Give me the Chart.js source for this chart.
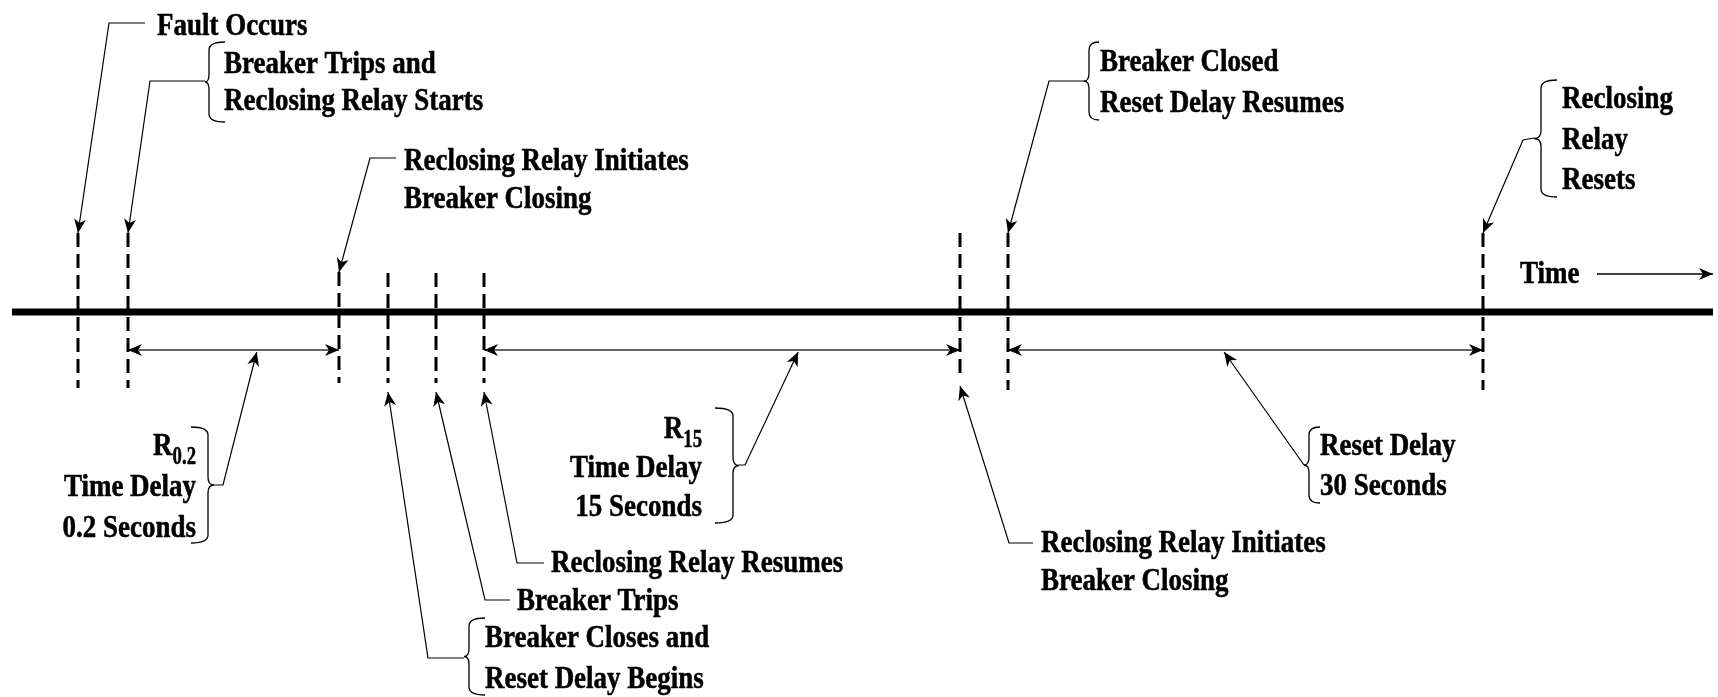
<!DOCTYPE html>
<html>
<head>
<meta charset="utf-8">
<title>Reclosing relay sequence</title>
<script src="https://cdn.jsdelivr.net/npm/chart.js@4.4.1/dist/chart.umd.min.js"></script>
<style>
  html, body { margin: 0; padding: 0; background: #fff; }
  #wrap { width: 1718px; height: 697px; position: relative; }
</style>
</head>
<body>
<div id="wrap"><canvas id="sequenceChart"></canvas></div>
<script>
// events on the time line (diagram position, not to scale)
var eventNames = [
    ['Fault Occurs'],
    ['Breaker Trips and', 'Reclosing Relay Starts'],
    ['Reclosing Relay Initiates', 'Breaker Closing'],
    ['Breaker Closes and', 'Reset Delay Begins'],
    ['Breaker Trips'],
    ['Reclosing Relay Resumes'],
    ['Reclosing Relay Initiates', 'Breaker Closing'],
    ['Breaker Closed', 'Reset Delay Resumes'],
    ['Reclosing', 'Relay', 'Resets']
];
var eventPos = [78, 128, 339, 388, 436, 484, 960, 1008, 1483];

// timed intervals, as indexes into eventPos
var intervalNames = ['Time Delay', 'Time Delay', 'Reset Delay'];
var intervalSymbol = ['R', 'R', null];
var intervalSeconds = [0.2, 15, 30];
var intervalFrom = [1, 5, 7];
var intervalTo = [2, 6, 8];

var axisStart = 12, axisEnd = 1713;
var axisLabel = 'Time';

// ---- layout (y = height above the time line) ----
var FONT = 'bold 29px "Liberation Serif", "Times New Roman", serif';
var SUB_FONT = 'bold 24px "Liberation Serif", "Times New Roman", serif';
var TEXT_SX = 0.93, TEXT_SY = 1.06, SUB_SX = 0.78;

var markerTop = [79, 79, 40, 39, 39, 39, 79, 79, 79];
var markerBottom = [-76, -76, -71, -71, -71, -71, -65, -78, -78];
var dimY = -38;

// brace: [tipX, stemX, hookX, top, bottom]
var eventCallouts = [
    { tx: 157, ty: 277, tip: 'top', bend: [[145, 289], [109, 289]] },
    { tx: 224, ty: 239, gap: 37, tip: 'top', bend: [[205, 231], [150, 231]], brace: [205, 209, 225, 270, 190] },
    { tx: 404, ty: 142, gap: 38, tip: 'top', bend: [[396, 154], [370, 154]] },
    { tx: 485, ty: -335, gap: 41, tip: 'bottom', bend: [[464, -346], [428, -346]], brace: [464, 469, 485, -306, -383] },
    { tx: 517, ty: -298, tip: 'bottom', bend: [[510, -288], [485, -288]] },
    { tx: 551, ty: -260, tip: 'bottom', bend: [[544, -251], [517, -251]] },
    { tx: 1041, ty: -240, gap: 38, tip: 'bottom', bend: [[1033, -231], [1009, -231]] },
    { tx: 1100, ty: 241, gap: 41, tip: 'top', bend: [[1084, 231], [1049, 231]], brace: [1084, 1089, 1099, 270, 192] },
    { tx: 1562, ty: 204, gap: 40.5, tip: 'top', bend: [[1534, 174], [1523, 172]], brace: [1534, 1541, 1557, 232, 115] }
];

var intervalCallouts = [
    { tx: 196, ty: -143, gap: 41, align: 'right', at: 0.61, bend: [[214, -173], [223, -173]], brace: [214, 208, 191, -115, -231] },
    { tx: 702, ty: -126, gap: 39, align: 'right', at: 0.66, bend: [[739, -153], [745, -153]], brace: [739, 733, 715, -96, -211] },
    { tx: 1320, ty: -143, gap: 40, align: 'left', at: 0.455, bend: [[1304, -153]], brace: [1304, 1309, 1320, -115, -191] }
];

var timeLabel = { tx: 1520, ty: 29, from: 1597, y: 38 };

function pt(x, y) { return { x: x, y: y }; }

var datasets = [];
datasets.push({ data: [pt(axisStart, 0), pt(axisEnd, 0)], borderColor: '#000', borderWidth: 7 });

eventPos.forEach(function (x, i) {
    datasets.push({ data: [pt(x, markerTop[i]), pt(x, markerBottom[i])], borderColor: '#000', borderWidth: 3, borderDash: [14, 7] });
});

intervalFrom.forEach(function (a, i) {
    datasets.push({
        data: [pt(eventPos[a], dimY), pt(eventPos[intervalTo[i]], dimY)],
        borderColor: '#333', borderWidth: 1.6, arrowStart: true, arrowEnd: true
    });
});

eventCallouts.forEach(function (c, i) {
    var tipY = c.tip === 'top' ? markerTop[i] : markerBottom[i] - 9;
    var pts = c.bend.map(function (p) { return pt(p[0], p[1]); });
    pts.push(pt(eventPos[i], tipY));
    datasets.push({ data: pts, borderColor: '#000', borderWidth: 1.2, arrowEnd: true });
});

intervalCallouts.forEach(function (c, i) {
    var a = eventPos[intervalFrom[i]], b = eventPos[intervalTo[i]];
    var pts = c.bend.map(function (p) { return pt(p[0], p[1]); });
    pts.push(pt(a + (b - a) * c.at, dimY - 2));
    datasets.push({ data: pts, borderColor: '#000', borderWidth: 1.2, arrowEnd: true });
});

datasets.push({ data: [pt(timeLabel.from, timeLabel.y), pt(axisEnd, timeLabel.y)], borderColor: '#000', borderWidth: 1.6, arrowEnd: true });

datasets.forEach(function (d) {
    d.showLine = true;
    d.pointRadius = 0;
    d.pointHoverRadius = 0;
    d.fill = false;
});

function arrowHead(ctx, from, to) {
    var ang = Math.atan2(to.y - from.y, to.x - from.x);
    ctx.save();
    ctx.translate(to.x, to.y);
    ctx.rotate(ang);
    ctx.beginPath();
    ctx.moveTo(0, 0);
    ctx.lineTo(-14, -6);
    ctx.lineTo(-10, 0);
    ctx.lineTo(-14, 6);
    ctx.closePath();
    ctx.fillStyle = '#000';
    ctx.fill();
    ctx.restore();
}

function brace(ctx, xs, ys, b) {
    var tx = xs.getPixelForValue(b[0]), sx = xs.getPixelForValue(b[1]), hx = xs.getPixelForValue(b[2]);
    var top = ys.getPixelForValue(b[3]), bot = ys.getPixelForValue(b[4]);
    var ty = ys.getPixelForValue((b[3] + b[4]) / 2);
    var r = 8;
    ctx.save();
    ctx.beginPath();
    ctx.moveTo(hx, top);
    ctx.quadraticCurveTo(sx, top, sx, top + r);
    ctx.lineTo(sx, ty - r);
    ctx.quadraticCurveTo(sx, ty, tx, ty);
    ctx.quadraticCurveTo(sx, ty, sx, ty + r);
    ctx.lineTo(sx, bot - r);
    ctx.quadraticCurveTo(sx, bot, hx, bot);
    ctx.strokeStyle = '#000';
    ctx.lineWidth = 1.3;
    ctx.stroke();
    ctx.restore();
}

function label(ctx, px, py, text, align) {
    ctx.save();
    ctx.translate(px, py);
    ctx.scale(TEXT_SX, TEXT_SY);
    ctx.font = FONT;
    ctx.fillStyle = '#000';
    ctx.strokeStyle = '#000';
    ctx.lineWidth = 0.5;
    ctx.textAlign = align || 'left';
    ctx.textBaseline = 'alphabetic';
    ctx.fillText(text, 0, 0);
    ctx.strokeText(text, 0, 0);
    ctx.restore();
}

function symbolLabel(ctx, right, py, sym, sub) {
    ctx.save();
    ctx.font = SUB_FONT;
    var subW = ctx.measureText(sub).width * SUB_SX;
    ctx.restore();
    label(ctx, right - subW, py, sym, 'right');
    ctx.save();
    ctx.translate(right - subW, py + 9);
    ctx.scale(SUB_SX, TEXT_SY);
    ctx.font = SUB_FONT;
    ctx.fillStyle = '#000';
    ctx.strokeStyle = '#000';
    ctx.lineWidth = 0.5;
    ctx.textAlign = 'left';
    ctx.fillText(sub, 0, 0);
    ctx.strokeText(sub, 0, 0);
    ctx.restore();
}

var annotate = {
    id: 'annotate',
    afterDatasetsDraw: function (chart) {
        var ctx = chart.ctx;
        var xs = chart.scales.x, ys = chart.scales.y;

        chart.data.datasets.forEach(function (d, i) {
            var pts = chart.getDatasetMeta(i).data;
            if (d.arrowEnd) arrowHead(ctx, pts[pts.length - 2], pts[pts.length - 1]);
            if (d.arrowStart) arrowHead(ctx, pts[1], pts[0]);
        });

        eventCallouts.forEach(function (c, i) {
            if (c.brace) brace(ctx, xs, ys, c.brace);
            eventNames[i].forEach(function (line, k) {
                label(ctx, xs.getPixelForValue(c.tx), ys.getPixelForValue(c.ty - k * (c.gap || 38)), line, 'left');
            });
        });

        intervalCallouts.forEach(function (c, i) {
            brace(ctx, xs, ys, c.brace);
            var lines = [];
            if (intervalSymbol[i]) lines.push(null);
            lines.push(intervalNames[i]);
            lines.push(intervalSeconds[i] + ' Seconds');
            lines.forEach(function (line, k) {
                var px = xs.getPixelForValue(c.tx), py = ys.getPixelForValue(c.ty - k * c.gap);
                if (line === null) symbolLabel(ctx, px, py, intervalSymbol[i], String(intervalSeconds[i]));
                else label(ctx, px, py, line, c.align);
            });
        });

        label(ctx, xs.getPixelForValue(timeLabel.tx), ys.getPixelForValue(timeLabel.ty), axisLabel, 'left');
    }
};

new Chart(document.getElementById('sequenceChart'), {
    type: 'scatter',
    data: { datasets: datasets },
    options: {
        responsive: true,
        maintainAspectRatio: false,
        animation: false,
        layout: { padding: 0 },
        plugins: { legend: { display: false }, tooltip: { enabled: false } },
        scales: {
            x: { type: 'linear', min: 0, max: 1718, display: false },
            y: { type: 'linear', min: -385, max: 312, display: false }
        }
    },
    plugins: [annotate]
});
</script>
</body>
</html>
